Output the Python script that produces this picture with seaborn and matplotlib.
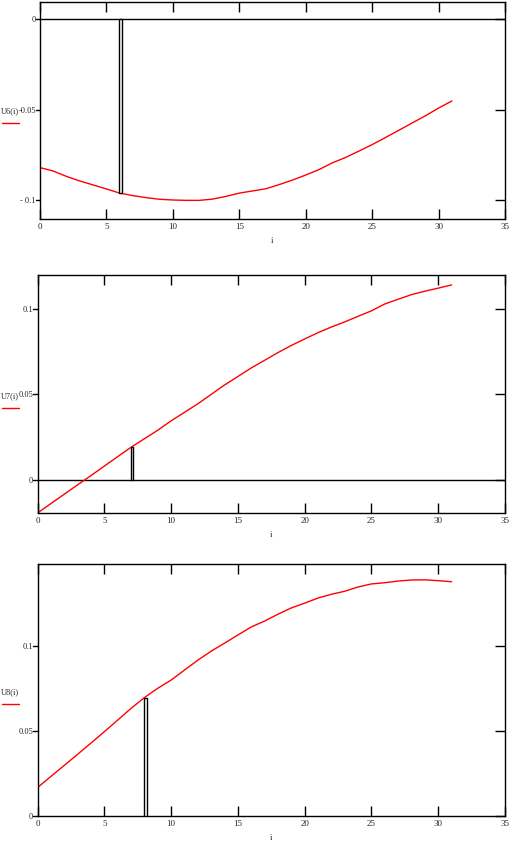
import numpy as np
import pandas as pd
import matplotlib
matplotlib.use("Agg")
import matplotlib.pyplot as plt
from matplotlib.lines import Line2D
import seaborn as sns

# ---- data ----
i_vals = list(range(32))
u6 = [-0.0821, -0.0840, -0.0870, -0.0895, -0.0917, -0.0939, -0.0962, -0.0976,
      -0.0987, -0.0996, -0.1000, -0.1002, -0.1002, -0.0995, -0.0980, -0.0962,
      -0.0950, -0.0938, -0.0915, -0.0890, -0.0862, -0.0832, -0.0795, -0.0765,
      -0.0730, -0.0694, -0.0655, -0.0615, -0.0575, -0.0535, -0.0492, -0.0453]
u7 = [-0.0195, -0.0140, -0.0085, -0.0030, 0.0024, 0.0080, 0.0135, 0.0190,
      0.0240, 0.0290, 0.0345, 0.0395, 0.0445, 0.0500, 0.0555, 0.0605,
      0.0655, 0.0700, 0.0745, 0.0787, 0.0825, 0.0862, 0.0895, 0.0925,
      0.0958, 0.0990, 0.1030, 0.1058, 0.1085, 0.1105, 0.1123, 0.1142]
u8 = [0.0167, 0.0232, 0.0297, 0.0362, 0.0428, 0.0495, 0.0563, 0.0632,
      0.0695, 0.0750, 0.0798, 0.0857, 0.0915, 0.0968, 0.1015, 0.1063,
      0.1110, 0.1145, 0.1185, 0.1222, 0.1250, 0.1280, 0.1302, 0.1320,
      0.1345, 0.1363, 0.1370, 0.1380, 0.1386, 0.1387, 0.1382, 0.1376]
series = [u6, u7, u8]
labels = ["U6(i)", "U7(i)", "U8(i)"]
marker_idx = [6, 7, 8]
x_ticks = [0, 5, 10, 15, 20, 25, 30, 35]
y_ticks = [[0, -0.05, -0.1], [0, 0.05, 0.1], [0, 0.05, 0.1]]
y_ticklabels = [["0", "-0.05", "- 0.1"], ["0", "0.05", "0.1"], ["0", "0.05", "0.1"]]
y_limits = [(-0.1105, 0.0094), (-0.0195, 0.120), (0.0, 0.148)]

sns.set_theme(style="white")
plt.rcParams['font.family'] = ['Liberation Serif', 'DejaVu Serif']

W, H = 514, 846
fig = plt.figure(figsize=(W / 100, H / 100), dpi=100)

# axes boxes in pixels: (left, top, right, bottom)
boxes = [(40, 2, 505, 219), (37.5, 275, 505, 513), (37.5, 564, 505, 816)]
label_y = [111, 396, 692]
FSX = 6.5
FSY = 6

for k in range(3):
    l, t, r, b = boxes[k]
    ax = fig.add_axes([l / W, 1 - b / H, (r - l) / W, (b - t) / H])
    df = pd.DataFrame({"i": i_vals, "U": series[k]})
    sns.lineplot(data=df, x="i", y="U", ax=ax, color="red", linewidth=1.0)
    if k < 2:
        ax.axhline(0, color="black", linewidth=1.0, zorder=1)
    m = marker_idx[k]
    ax.bar([i_vals[m] + 0.07], [series[k][m]], width=0.2, color="white",
           edgecolor="black", linewidth=1.0, zorder=3)
    ax.set_xlim(0, 35)
    ax.set_ylim(*y_limits[k])
    ax.set_xticks(x_ticks)
    ax.set_xticklabels([str(v) for v in x_ticks])
    ax.set_yticks(y_ticks[k])
    ax.set_yticklabels(y_ticklabels[k])
    ax.tick_params(axis="x", direction="in", top=True, bottom=True, length=7,
                   width=1, color="black", labelsize=FSX, pad=3)
    ax.tick_params(axis="y", left=False, right=True, direction="in",
                   length=7, width=1, color="black", labelsize=FSY,
                   labelleft=True, pad=3)
    for yt in y_ticks[k]:
        ax.plot([-0.009, 0], [yt, yt], transform=ax.get_yaxis_transform(),
                color="black", linewidth=1, clip_on=False)
    for sp in ax.spines.values():
        sp.set_color("black")
        sp.set_linewidth(1.0)
        sp.set_visible(True)
    ax.set_xlabel("i", fontsize=FSX, labelpad=4)
    ax.set_ylabel("")
    fig.text(1 / W, 1 - label_y[k] / H, labels[k], fontsize=FSY,
             ha="left", va="center")
    fig.add_artist(Line2D([2 / W, 19 / W], [1 - (label_y[k] + 12) / H] * 2,
                          color="red", linewidth=1.0))

fig.savefig("out.png", dpi=100)
